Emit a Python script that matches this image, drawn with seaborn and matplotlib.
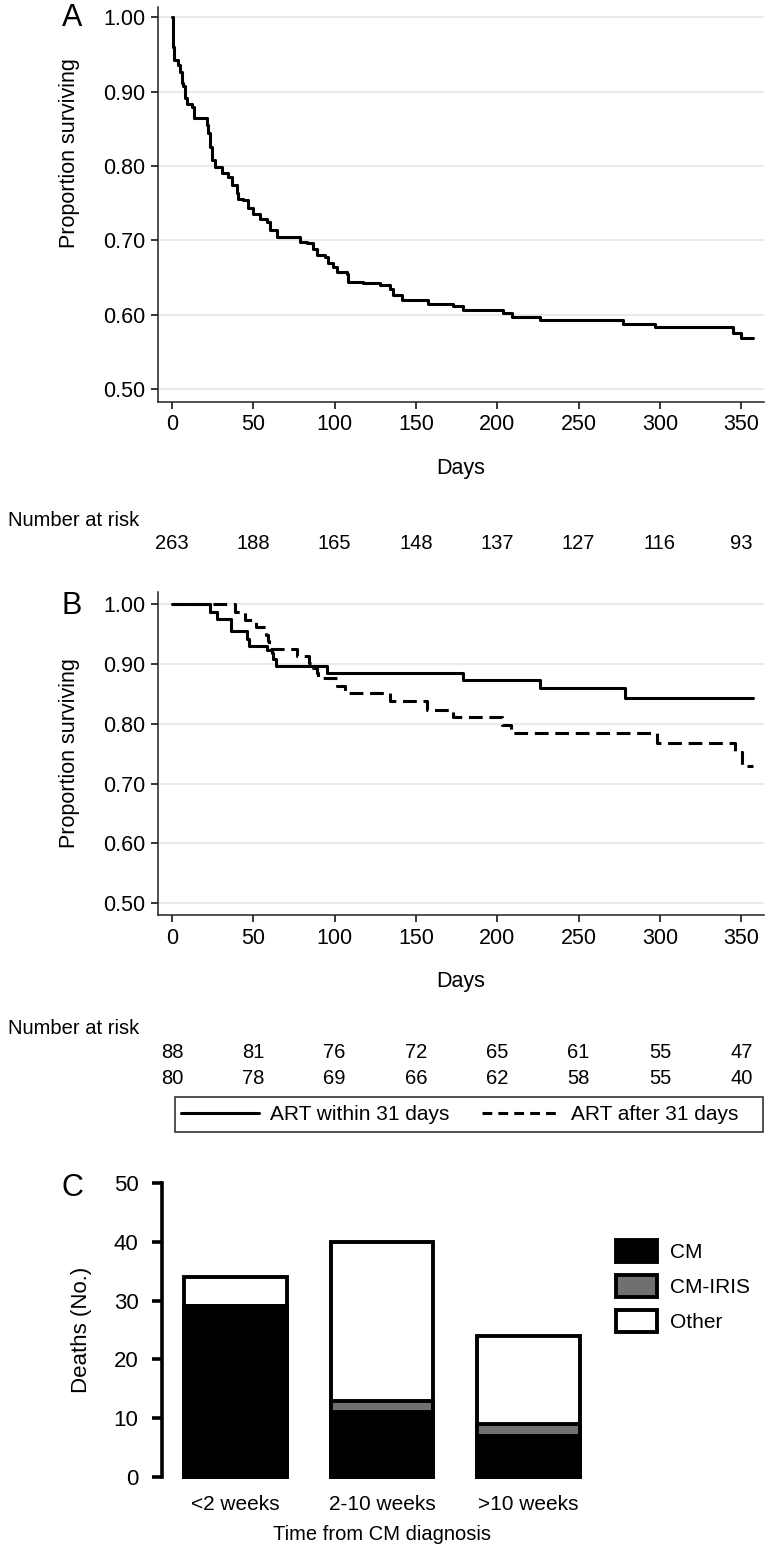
import numpy as np
import pandas as pd
import seaborn as sns
import matplotlib.pyplot as plt
from matplotlib.lines import Line2D
from matplotlib.patches import Patch, Rectangle
from matplotlib.transforms import blended_transform_factory

# panel A - overall survival (step points)
days_all = [0, 0.5, 1.2, 3.9, 4.9, 5.9, 7, 8, 9, 12, 13.5, 21.3, 22.3, 23.4, 24.4, 26.4,
            30.5, 34.6, 36.7, 39.8, 40.8, 43.9, 47, 50, 54, 58.2, 60.3, 64.4, 78.7, 82.8,
            86.9, 89, 94, 96.1, 99.2, 101.2, 107.4, 108.4, 117.7, 127.9, 134, 136.1, 141.3,
            157.6, 173, 179.2, 203.8, 208.9, 226.3, 277.6, 297, 345.2, 349.7, 357]
surv_all = [1.0, 0.960, 0.943, 0.936, 0.927, 0.911, 0.907, 0.891, 0.884, 0.880, 0.864, 0.855,
            0.844, 0.826, 0.808, 0.799, 0.790, 0.785, 0.774, 0.763, 0.756, 0.754, 0.743, 0.736,
            0.729, 0.725, 0.714, 0.705, 0.698, 0.696, 0.689, 0.680, 0.678, 0.669, 0.664, 0.658,
            0.655, 0.644, 0.642, 0.640, 0.635, 0.626, 0.620, 0.615, 0.611, 0.606, 0.602, 0.597,
            0.593, 0.587, 0.583, 0.575, 0.568, 0.568]
risk_days = [0, 50, 100, 150, 200, 250, 300, 350]
risk_all = [263, 188, 165, 148, 137, 127, 116, 93]

# panel B - ART timing
days_early = [0, 23.4, 27.5, 36.1, 46.3, 47.5, 58.6, 61.3, 62.3, 63.8, 95.5, 179.2, 226.3, 278.6, 357.5]
surv_early = [1.0, 0.988, 0.975, 0.955, 0.943, 0.931, 0.924, 0.919, 0.909, 0.897, 0.886, 0.873,
              0.860, 0.844, 0.844]
days_late = [0, 38.7, 44.9, 51.7, 58.0, 59.0, 59.5, 76.6, 84.0, 87.0, 89.0, 90.0, 101.2, 106.4,
             134.1, 157.0, 173.0, 203.0, 208.5, 298.0, 346.0, 350.3, 357.5]
surv_late = [1.0, 0.987, 0.974, 0.962, 0.949, 0.938, 0.925, 0.913, 0.902, 0.894, 0.885, 0.877,
             0.864, 0.851, 0.838, 0.824, 0.811, 0.798, 0.785, 0.768, 0.753, 0.730, 0.730]
risk_early = [88, 81, 76, 72, 65, 61, 55, 47]
risk_late = [80, 78, 69, 66, 62, 58, 55, 40]
group_labels = ['ART within 31 days', 'ART after 31 days']

# panel C - deaths by cause
periods = ['<2 weeks', '2-10 weeks', '>10 weeks']
cm = [29, 11, 7]
cm_iris = [0, 2, 2]
other = [5, 27, 15]
causes = ['CM', 'CM-IRIS', 'Other']

sns.set_style("ticks")
plt.rcParams['font.family'] = ['Liberation Sans', 'DejaVu Sans']
plt.rcParams.update({'text.color': 'black', 'axes.labelcolor': 'black',
                     'xtick.color': 'black', 'ytick.color': 'black'})

W, H = 772, 1554
fig = plt.figure(figsize=(W / 100, H / 100), dpi=100)


def box(l, t, r, b):
    return [l / W, 1 - b / H, (r - l) / W, (b - t) / H]


def km_axes(ax, ymax, ymin):
    ax.set_xlim(-8.6, 364)
    ax.set_ylim(ymin, ymax)
    ax.set_xticks(risk_days)
    ax.set_yticks([0.5, 0.6, 0.7, 0.8, 0.9, 1.0])
    ax.set_yticklabels(['%.2f' % v for v in [0.5, 0.6, 0.7, 0.8, 0.9, 1.0]])
    ax.yaxis.grid(True, color='#e6e6e6', lw=1.2)
    ax.set_axisbelow(True)
    sns.despine(ax=ax)
    for s in ['left', 'bottom']:
        ax.spines[s].set_linewidth(1.1)
        ax.spines[s].set_color('#222222')
    ax.tick_params(direction='out', length=5, width=1.1, pad=4, labelsize=15.5)
    ax.set_xlabel('Days', fontsize=15.5)
    ax.set_ylabel('Proportion surviving', fontsize=15.5)


# ---- A
axA = fig.add_axes(box(158, 7, 764, 402))
sns.lineplot(x=days_all, y=surv_all, drawstyle='steps-post', color='black', lw=2.2,
             estimator=None, sort=False, ax=axA)
km_axes(axA, 1.0139, 0.4825)
axA.xaxis.set_label_coords(0.5, -0.142)
axA.yaxis.set_label_coords(-0.128, 1 - (153 - 7) / 395)
fig.text(72 / W, 1 - 18 / H, 'A', fontsize=22, ha='center', va='center')

fig.text(8 / W, 1 - 520 / H, 'Number at risk', fontsize=14.5, ha='left', va='center')
trA = blended_transform_factory(axA.transData, fig.transFigure)
for d, n in zip(risk_days, risk_all):
    axA.text(d, 1 - 543 / H, str(n), transform=trA, fontsize=14.5, ha='center', va='center')

# ---- B
axB = fig.add_axes(box(158, 592, 764, 915))
sns.lineplot(x=days_early, y=surv_early, drawstyle='steps-post', color='black', lw=2.2,
             estimator=None, sort=False, ax=axB)
sns.lineplot(x=days_late, y=surv_late, drawstyle='steps-post', color='black', lw=2.2,
             linestyle=(0, (4.5, 2.2)), estimator=None, sort=False, ax=axB)
km_axes(axB, 1.0209, 0.4799)
axB.xaxis.set_label_coords(0.5, -0.173)
axB.yaxis.set_label_coords(-0.128, 0.5)
fig.text(72 / W, 1 - 606 / H, 'B', fontsize=22, ha='center', va='center')

fig.text(8 / W, 1 - 1029 / H, 'Number at risk', fontsize=14.5, ha='left', va='center')
trB = blended_transform_factory(axB.transData, fig.transFigure)
for d, n1, n2 in zip(risk_days, risk_early, risk_late):
    axB.text(d, 1 - 1053 / H, str(n1), transform=trB, fontsize=14.5, ha='center', va='center')
    axB.text(d, 1 - 1078 / H, str(n2), transform=trB, fontsize=14.5, ha='center', va='center')

fig.patches.append(Rectangle((175 / W, 1 - 1132 / H), 588 / W, 35 / H, transform=fig.transFigure,
                             fill=False, edgecolor='#333333', lw=1.2))
hB = [Line2D([], [], color='black', lw=2.2),
      Line2D([], [], color='black', lw=2.2, linestyle=(0, (3.2, 2.0)))]
fig.legend(hB, group_labels, loc='center left', bbox_to_anchor=(181 / W, 1 - 1114.5 / H),
           ncol=2, frameon=False, fontsize=15, handlelength=3.75, handletextpad=0.5,
           columnspacing=1.6, borderpad=0, borderaxespad=0)

# ---- C
axC = fig.add_axes(box(162, 1183, 602, 1477))
total = [a + b + c for a, b, c in zip(cm, cm_iris, other)]
cm_plus = [a + b for a, b in zip(cm, cm_iris)]
for vals, col in [(total, 'white'), (cm_plus, '#707070'), (cm, 'black')]:
    sns.barplot(x=periods, y=vals, color=col, saturation=1, width=0.7, edgecolor='black',
                linewidth=2.8, clip_on=False, ax=axC)
axC.set_xlim(-0.5, 2.5)
axC.set_ylim(0, 50)
axC.set_yticks([0, 10, 20, 30, 40, 50])
sns.despine(ax=axC, bottom=True)
axC.spines['left'].set_linewidth(2.6)
axC.spines['left'].set_color('black')
axC.tick_params(axis='y', direction='out', length=7, width=2.6, pad=10, labelsize=16)
axC.tick_params(axis='x', length=0, pad=13, labelsize=15)
axC.set_ylabel('Deaths (No.)', fontsize=16)
axC.yaxis.set_label_coords(-0.16, 0.5)
axC.set_xlabel('Time from CM diagnosis', fontsize=14.5, labelpad=8)
fig.text(72 / W, 1 - 1188 / H, 'C', fontsize=22, ha='center', va='center')

hC = [Patch(facecolor=c, edgecolor='black', lw=2.8) for c in ['black', '#707070', 'white']]
fig.legend(hC, causes, loc='upper left', bbox_to_anchor=(616 / W, 1 - 1240 / H), frameon=False,
           fontsize=15, handlelength=1.95, handleheight=1.25, handletextpad=0.65, labelspacing=0.62,
           borderpad=0, borderaxespad=0)

fig.savefig('out.png', dpi=100)
